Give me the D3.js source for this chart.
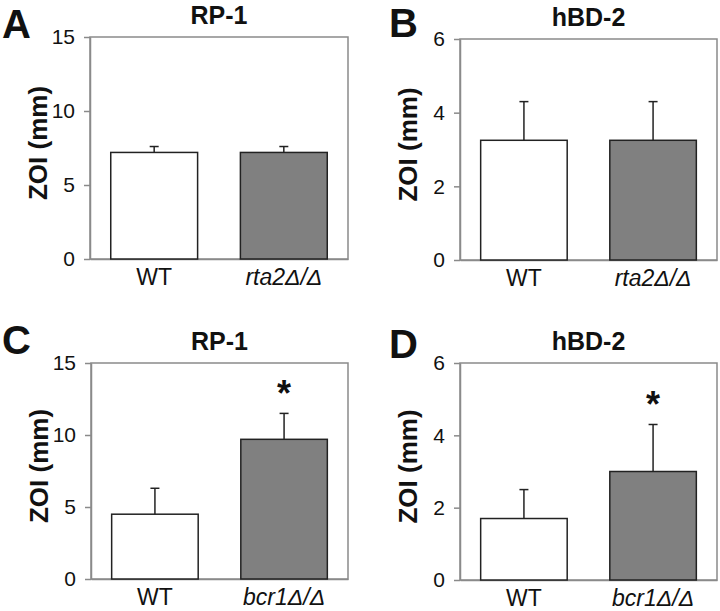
<!DOCTYPE html>
<html>
<head>
<meta charset="utf-8">
<script src="https://cdn.jsdelivr.net/npm/d3@7"></script>
<style>
  html, body { margin: 0; padding: 0; background: #fff; }
  svg { display: block; font-family: "Liberation Sans", Arial, Helvetica, sans-serif; }
</style>
</head>
<body>
<svg id="chart" width="720" height="611"></svg>
<script>
// ---------------- data ----------------
const categoriesTop = ["WT", "rta2Δ/Δ"];
const categoriesBottom = ["WT", "bcr1Δ/Δ"];

const rp1TopMean = [7.2, 7.2];
const rp1TopErr = [0.4, 0.4];
const hbd2TopMean = [3.25, 3.25];
const hbd2TopErr = [1.05, 1.05];

const rp1BottomMean = [4.5, 9.7];
const rp1BottomErr = [1.8, 1.8];
const hbd2BottomMean = [1.7, 3.0];
const hbd2BottomErr = [0.8, 1.3];

const sigTop = [false, false];
const sigBottom = [false, true];

const rp1Ticks = [0, 5, 10, 15];
const hbd2Ticks = [0, 2, 4, 6];

const panelLetters = ["A", "B", "C", "D"];
const panelTitles = ["RP-1", "hBD-2", "RP-1", "hBD-2"];
const yAxisLabel = "ZOI (mm)";
const barFills = ["#ffffff", "#808080"];

// ---------------- layout ----------------
const svg = d3.select("#chart");
const frameColor = "#8a8a8a";
const inkColor = "#111";

const panels = [
  { letter: panelLetters[0], title: panelTitles[0], cats: categoriesTop, mean: rp1TopMean, err: rp1TopErr, ticks: rp1Ticks, sig: sigTop,
    x0: 90, x1: 348, y0: 37, y1: 259, lx: 2, ly: 38 },
  { letter: panelLetters[1], title: panelTitles[1], cats: categoriesTop, mean: hbd2TopMean, err: hbd2TopErr, ticks: hbd2Ticks, sig: sigTop,
    x0: 460, x1: 717, y0: 39, y1: 260, lx: 389, ly: 37 },
  { letter: panelLetters[2], title: panelTitles[2], cats: categoriesBottom, mean: rp1BottomMean, err: rp1BottomErr, ticks: rp1Ticks, sig: sigBottom,
    x0: 91, x1: 348, y0: 363, y1: 579, lx: 2, ly: 354 },
  { letter: panelLetters[3], title: panelTitles[3], cats: categoriesBottom, mean: hbd2BottomMean, err: hbd2BottomErr, ticks: hbd2Ticks, sig: sigBottom,
    x0: 460, x1: 717, y0: 363, y1: 580, lx: 389, ly: 358 }
];

panels.forEach(p => {
  const g = svg.append("g");
  const x = d3.scaleBand().domain(p.cats).range([p.x0, p.x1])
    .paddingInner(0.33).paddingOuter(0.16).align(0.5);
  const y = d3.scaleLinear().domain([0, d3.max(p.ticks)]).range([p.y1, p.y0]);

  // frame
  g.append("rect")
    .attr("x", p.x0).attr("y", p.y0)
    .attr("width", p.x1 - p.x0).attr("height", p.y1 - p.y0)
    .attr("fill", "none").attr("stroke", frameColor).attr("stroke-width", 1.5);

  // y axis
  const yAxis = g.append("g")
    .attr("transform", `translate(${p.x0},0)`)
    .call(d3.axisLeft(y).tickValues(p.ticks).tickFormat(d3.format("d"))
      .tickSize(6).tickPadding(9).tickSizeOuter(0));
  yAxis.select(".domain").attr("stroke", frameColor).attr("stroke-width", 1.5);
  yAxis.selectAll(".tick line").attr("stroke", frameColor).attr("stroke-width", 1.5);
  yAxis.selectAll(".tick text")
    .attr("font-size", 21).attr("fill", inkColor)
    .attr("font-family", "'Liberation Sans', Arial, sans-serif");

  // x axis (no ticks)
  const xAxis = g.append("g")
    .attr("transform", `translate(0,${p.y1})`)
    .call(d3.axisBottom(x).tickSize(0).tickPadding(10).tickSizeOuter(0));
  xAxis.select(".domain").attr("stroke", frameColor).attr("stroke-width", 1.5);
  xAxis.selectAll(".tick text")
    .attr("font-size", 23).attr("fill", inkColor)
    .attr("font-style", d => d === "WT" ? "normal" : "italic")
    .attr("font-family", "'Liberation Sans', Arial, sans-serif")
    .attr("dy", "0.71em");

  // bars
  g.selectAll("rect.bar").data(p.cats).enter().append("rect")
    .attr("class", "bar")
    .attr("x", d => x(d))
    .attr("width", x.bandwidth())
    .attr("y", (d, i) => y(p.mean[i]))
    .attr("height", (d, i) => y(0) - y(p.mean[i]))
    .attr("fill", (d, i) => barFills[i])
    .attr("stroke", "#222").attr("stroke-width", 1.5);

  // error bars (upper only)
  const capW = 9;
  p.cats.forEach((c, i) => {
    const cx = x(c) + x.bandwidth() / 2;
    const top = y(p.mean[i] + p.err[i]);
    g.append("line")
      .attr("x1", cx).attr("x2", cx)
      .attr("y1", y(p.mean[i])).attr("y2", top)
      .attr("stroke", "#222").attr("stroke-width", 1.5);
    g.append("line")
      .attr("x1", cx - capW / 2).attr("x2", cx + capW / 2)
      .attr("y1", top).attr("y2", top)
      .attr("stroke", "#222").attr("stroke-width", 1.5);
    if (p.sig[i]) {
      g.append("text")
        .attr("x", cx).attr("y", top - 7)
        .attr("text-anchor", "middle")
        .attr("font-size", 36).attr("font-weight", "bold")
        .attr("fill", inkColor)
        .text("*");
    }
  });

  // title
  g.append("text")
    .attr("x", (p.x0 + p.x1) / 2).attr("y", p.y0 - 13)
    .attr("text-anchor", "middle")
    .attr("font-size", 25).attr("font-weight", "bold").attr("fill", inkColor)
    .text(p.title);

  // panel letter
  g.append("text")
    .attr("x", p.lx).attr("y", p.ly)
    .attr("font-size", 40).attr("font-weight", "bold").attr("fill", inkColor)
    .text(p.letter);

  // y label
  g.append("text")
    .attr("transform", `translate(${p.x0 - 43},${(p.y0 + p.y1) / 2 - 5}) rotate(-90)`)
    .attr("text-anchor", "middle")
    .attr("font-size", 26).attr("font-weight", "bold").attr("fill", inkColor)
    .text(yAxisLabel);
});
</script>
</body>
</html>
